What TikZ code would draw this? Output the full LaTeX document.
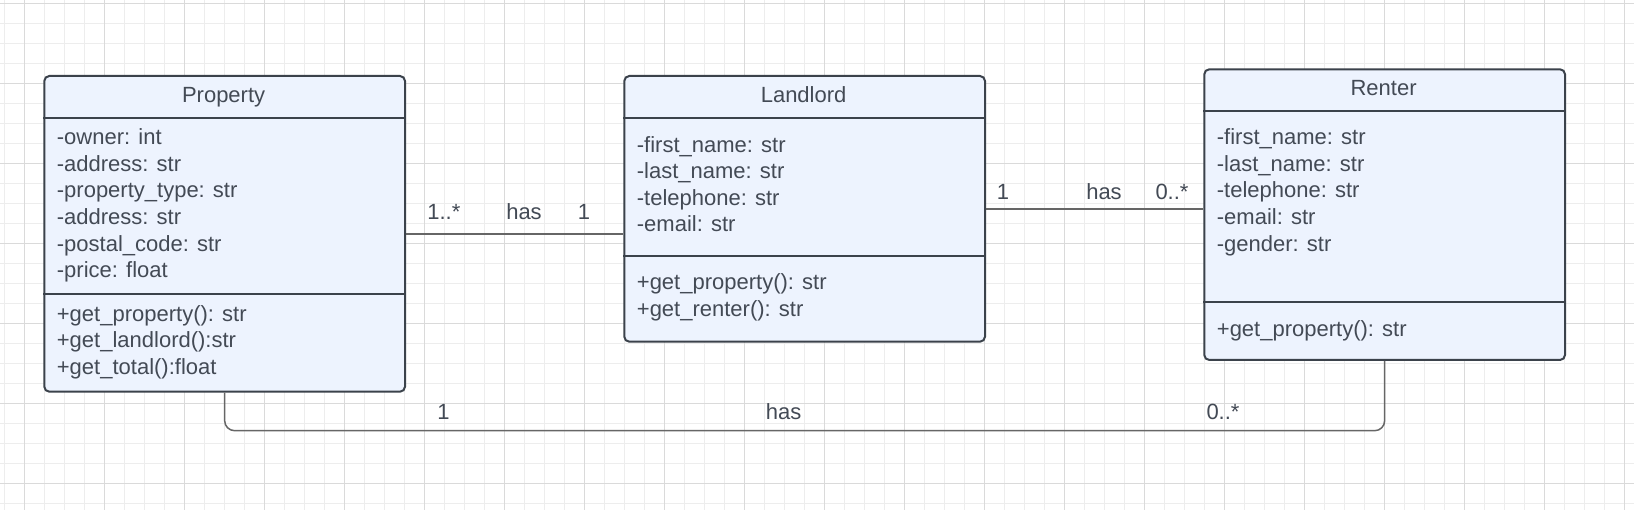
\documentclass[tikz,border=0pt]{standalone}
\usepackage{fontspec}
\setmainfont{Liberation Sans}
\definecolor{gridminor}{HTML}{EDEDED}
\definecolor{gridmajor}{HTML}{DADADA}
\definecolor{boxfill}{HTML}{EDF3FE}
\definecolor{boxline}{HTML}{3B424B}
\definecolor{txt}{HTML}{434A55}
\definecolor{conn}{HTML}{666666}
\tikzset{
  umlbox/.style={draw=boxline, fill=boxfill, line width=2pt, rounded corners=5pt, anchor=north west, inner sep=0pt},
  sepline/.style={draw=boxline, line width=2pt},
  umltext/.style={text=txt, font=\fontsize{22}{26}\selectfont, inner sep=0pt, text height=15.8pt, text depth=0pt},
  attr/.style={umltext, anchor=west},
  title/.style={umltext, anchor=center},
  lbl/.style={umltext, anchor=center},
  connector/.style={draw=conn, line width=1.5pt},
}
\begin{document}
\begin{tikzpicture}[x=1pt,y=-1pt]
\useasboundingbox (0,0) rectangle (1634,510);
\fill[white] (0,0) rectangle (1634,510);
% grid
\foreach \x in {4,24,...,1624} \draw[gridminor, line width=1pt] (\x,0) -- (\x,510);
\foreach \y in {3.3,23.3,...,503.3} \draw[gridminor, line width=1pt] (0,\y) -- (1634,\y);
\foreach \x in {24,104,...,1624} \draw[gridmajor, line width=1pt] (\x,0) -- (\x,510);
\foreach \y in {3.3,83.3,...,483.3} \draw[gridmajor, line width=1pt] (0,\y) -- (1634,\y);

% Property
\node[umlbox, minimum width=360.7pt, minimum height=315.7pt] (prop) at (43.3,75) {};
\draw[sepline] (43.3,117.7) -- (404,117.7);
\draw[sepline] (43.3,294) -- (404,294);
\node[title] (propT) at (223.6,94.3) {Property};
\node[attr] (p1) at (56.7,136.7) {-owner: int};
\node[attr] (p2) at (56.7,163.3) {-address: str};
\node[attr] (p3) at (56.7,190) {-property\_type: str};
\node[attr] (p4) at (56.7,216.7) {-address: str};
\node[attr] (p5) at (56.7,243.3) {-postal\_code: str};
\node[attr] (p6) at (56.7,270) {-price: float};
\node[attr] (pm1) at (56.7,313.3) {+get\_property(): str};
\node[attr] (pm2) at (56.7,340) {+get\_landlord():str};
\node[attr] (pm3) at (56.7,366.7) {+get\_total():float};

% Landlord
\node[umlbox, minimum width=360.7pt, minimum height=265.7pt] (land) at (623.3,75) {};
\draw[sepline] (623.3,118.3) -- (984,118.3);
\draw[sepline] (623.3,256) -- (984,256);
\node[title] (landT) at (803.6,94.3) {Landlord};
\node[attr] (l1) at (636.7,145) {-first\_name: str};
\node[attr] (l2) at (636.7,170.7) {-last\_name: str};
\node[attr] (l3) at (636.7,197.3) {-telephone: str};
\node[attr] (l4) at (636.7,224) {-email: str};
\node[attr] (lm1) at (636.7,281.7) {+get\_property(): str};
\node[attr] (lm2) at (636.7,308.3) {+get\_renter(): str};

% Renter
\node[umlbox, minimum width=360.7pt, minimum height=290.7pt] (rent) at (1203.3,68.3) {};
\draw[sepline] (1203.3,111) -- (1564,111);
\draw[sepline] (1203.3,302.3) -- (1564,302.3);
\node[title] (rentT) at (1383.6,87.3) {Renter};
\node[attr] (r1) at (1216.7,136.7) {-first\_name: str};
\node[attr] (r2) at (1216.7,163.3) {-last\_name: str};
\node[attr] (r3) at (1216.7,190) {-telephone: str};
\node[attr] (r4) at (1216.7,216.7) {-email: str};
\node[attr] (r5) at (1216.7,243.3) {-gender: str};
\node[attr] (rm1) at (1216.7,328.3) {+get\_property(): str};

% connectors
\draw[connector] (prop.east) -- (prop.east -| land.west);
\draw[connector] (land.east) -- (land.east -| rent.west);
\coordinate (bot) at (0,430.7);
\draw[connector, rounded corners=10pt] (prop.south) -- (prop.south |- bot) -- (rent.south |- bot) -- (rent.south);

% labels
\node[lbl] (a1) at (443.8,211.7) {1..*};
\node[lbl] (a2) at (524,211.7) {has};
\node[lbl] (a3) at (584,211.7) {1};
\node[lbl] (b1) at (1003,191.7) {1};
\node[lbl] (b2) at (1104,191.7) {has};
\node[lbl] (b3) at (1172,191.7) {0..*};
\node[lbl] (c1) at (443.6,411.7) {1};
\node[lbl] (c2) at (783.6,411.7) {has};
\node[lbl] (c3) at (1223,411.7) {0..*};
\end{tikzpicture}
\end{document}
